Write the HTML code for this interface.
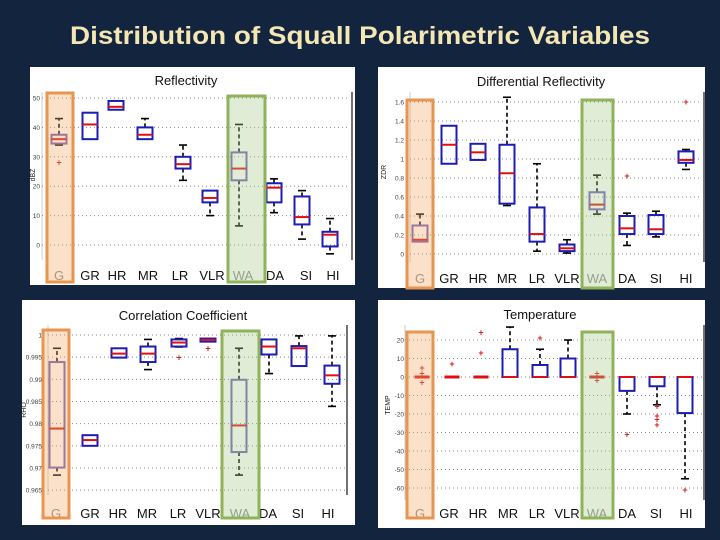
<!DOCTYPE html>
<html><head><meta charset="utf-8"><style>
html,body{margin:0;padding:0;background:#12243e;width:720px;height:540px;overflow:hidden}
svg{display:block;font-family:"Liberation Sans",sans-serif}
</style></head><body>
<svg id="s" width="720" height="540" viewBox="0 0 720 540">
<rect x="0" y="0" width="720" height="540" fill="#12243e"/>
<text x="70" y="44" textLength="580" lengthAdjust="spacingAndGlyphs" font-family="Liberation Sans, sans-serif" font-size="25" font-weight="bold" fill="#f4e7b4">Distribution of Squall Polarimetric Variables</text>
</svg>
<script>
const categories = ["G","GR","HR","MR","LR","VLR","WA","DA","SI","HI"];

// Reflectivity
const zQ1  = [34.5,36,46,36,26,14.5,22,14.5,7,-0.5];
const zMed = [36,41,47,37.5,27.5,16,26,19.5,9.5,3.5];
const zQ3  = [37.5,45,49,40,30,18.5,31.5,21,16.5,4.5];
const zLo  = [34,36,46,36,22,10,6.5,11,2,-3];
const zHi  = [43,45,49,43,34,18.5,41,22.5,18.5,9];
const zOut = [[28],[],[],[],[],[],[],[],[],[]];
const zTicks = [0,10,20,30,40,50];

// Differential reflectivity
const zdrQ1  = [0.13,0.95,0.99,0.53,0.13,0.03,0.47,0.21,0.21,0.96];
const zdrMed = [0.15,1.15,1.07,0.85,0.21,0.06,0.52,0.27,0.26,0.99];
const zdrQ3  = [0.30,1.35,1.16,1.15,0.49,0.10,0.65,0.40,0.41,1.08];
const zdrLo  = [0.13,0.95,0.99,0.51,0.03,0.01,0.42,0.09,0.18,0.89];
const zdrHi  = [0.42,1.35,1.16,1.65,0.95,0.15,0.83,0.43,0.45,1.10];
const zdrOut = [[],[],[],[],[],[],[],[0.82],[],[1.6]];
const zdrTicks = [0,0.2,0.4,0.6,0.8,1,1.2,1.4,1.6];

// Correlation coefficient
const rhoQ1  = [0.9701,0.9750,0.9949,0.9939,0.9974,0.9985,0.9736,0.9956,0.9930,0.9890];
const rhoMed = [0.9789,0.9763,0.9958,0.9958,0.9983,0.9989,0.9796,0.9974,0.9970,0.9909];
const rhoQ3  = [0.9939,0.9774,0.9970,0.9974,0.9990,0.9992,0.9899,0.9990,0.9975,0.9931];
const rhoLo  = [0.9684,0.9750,0.9949,0.9922,0.9973,0.9985,0.9684,0.9913,0.9930,0.9839];
const rhoHi  = [0.9970,0.9774,0.9970,0.9990,0.9992,0.9992,0.9970,0.9990,0.9998,0.9998];
const rhoOut = [[],[],[],[],[0.9949],[0.9970],[],[],[],[]];
const rhoTicks = [0.965,0.97,0.975,0.98,0.985,0.99,0.995,1];

// Temperature
const tQ1  = [0,0,0,0,0,0,0,-7.5,-5,-19.5];
const tMed = [0,0,0,0,0,0,0,0,0,0];
const tQ3  = [0,0,0,15,6.5,10,0,0,0,0];
const tLo  = [0,0,0,0,0,0,0,-20,-15,-55];
const tHi  = [0,0,0,27,15,20,0,0,0,0];
const tOut = [[5,2,-3],[7],[13,24],[],[21],[],[2,-2],[-31],[-16,-21,-23,-26],[-61]];
const tTicks = [20,10,0,-10,-20,-30,-40,-50,-60];

const NS="http://www.w3.org/2000/svg";
const svg=document.getElementById('s');
function mk(tag,attrs,parent){const e=document.createElementNS(NS,tag);for(const k in attrs)e.setAttribute(k,attrs[k]);(parent||svg).appendChild(e);return e;}

const panels=[
 {id:'reflectivity',title:'Reflectivity',bg:[30,67,325,218],tx:186,ty:85,plot:[42,350],v0:0,p0:245,v1:50,p1:98,
  cx:[59,90,116,145,183,210,239,274,302,330],lx:[59,90,117,148,180,212,243,275,306,333],ly:280,
  hG:[47,93,26,189],hW:[228,96,37,186],q1:zQ1,med:zMed,q3:zQ3,lo:zLo,hi:zHi,out:zOut,ticks:zTicks,fmt:v=>String(v),ylab:'dBZ',yl:[35,175],axisB:260,tickx:40},
 {id:'differential-reflectivity',title:'Differential Reflectivity',bg:[378,67,327,221],tx:541,ty:86,plot:[410,702],v0:0,p0:254,v1:1.6,p1:102,
  cx:[420,449,478,507,537,567,597,627,656,686],lx:[420,449,478,507,537,567,597,627,656,686],ly:283,
  hG:[407,100,26,188],hW:[582,100,31,188],q1:zdrQ1,med:zdrMed,q3:zdrQ3,lo:zdrLo,hi:zdrHi,out:zdrOut,ticks:zdrTicks,fmt:v=>String(v),ylab:'ZDR',yl:[386,172],axisB:262,tickx:404},
 {id:'correlation-coefficient',title:'Correlation Coefficient',bg:[22,300,333,225],tx:183,ty:320,plot:[48,345],v0:0.97,p0:468,v1:1,p1:335,
  cx:[57,90,119,148,179,208,239,269,299,332],lx:[56,90,118,147,178,208,240,268,298,328],ly:518,
  hG:[43,330,26,188],hW:[222,331,37,187],q1:rhoQ1,med:rhoMed,q3:rhoQ3,lo:rhoLo,hi:rhoHi,out:rhoOut,ticks:rhoTicks,fmt:v=>String(v),ylab:'RHO',yl:[26,410],axisB:495,tickx:42},
 {id:'temperature',title:'Temperature',bg:[378,300,327,228],tx:540,ty:319,plot:[405,702],v0:0,p0:377,v1:-60,p1:488,
  cx:[422,452,481,510,540,568,597,627,657,685],lx:[420,449,478,508,537,567,597,627,656,686],ly:518,
  hG:[407,332,26,186],hW:[582,332,31,186],q1:tQ1,med:tMed,q3:tQ3,lo:tLo,hi:tHi,out:tOut,ticks:tTicks,fmt:v=>String(v),ylab:'TEMP',yl:[390,405],axisB:500,tickx:404}
];

panels.forEach(p=>{
 const g=mk('g',{});
 
 
 const y=v=>p.p0+(v-p.v0)*(p.p1-p.p0)/(p.v1-p.v0);
 const bg=mk('rect',{x:p.bg[0],y:p.bg[1],width:p.bg[2],height:p.bg[3],fill:'#ffffff'},g);
 
 
 const t=mk('text',{x:p.tx,y:p.ty,'text-anchor':'middle','font-size':13,fill:'#111'},g);
 t.textContent=p.title;
 
 
 const rl=mk('line',{x1:p.plot[1]+2,x2:p.plot[1]+2,y1:p.bg[1]+25,y2:p.axisB,stroke:'#444','stroke-width':1.5},g);
 
 
 const ll=mk('line',{x1:p.plot[0],x2:p.plot[0],y1:p.bg[1]+25,y2:p.axisB,stroke:'#ccc','stroke-width':1},g);
 
 
 p.ticks.forEach(v=>{
  const gl=mk('line',{x1:p.plot[0],x2:p.plot[1],y1:y(v),y2:y(v),stroke:'#888','stroke-width':1,'stroke-dasharray':'1,3'},g);
  
  
  const tl=mk('text',{x:p.tickx,y:y(v)+2.5,'text-anchor':'end','font-size':6.5,fill:'#444'},g);
  tl.textContent=p.fmt(v);
  
  
 });
 const yt=mk('text',{x:p.yl[0],y:p.yl[1],'text-anchor':'middle','font-size':7,fill:'#222',transform:`rotate(-90 ${p.yl[0]} ${p.yl[1]})`},g);
 yt.textContent=p.ylab;
 
 
 categories.forEach((c,i)=>{
  const x=p.cx[i],w=7.5;
  const faded=(c==='G'||c==='WA');
  const bx=faded?'#6a60b8':'#1c1cb4';
  const bg2=mk('g',{},g);
  
  
  if(p.hi[i]>p.q3[i]) mk('line',{x1:x,x2:x,y1:y(p.q3[i]),y2:y(p.hi[i]),stroke:'#000','stroke-width':1.6,'stroke-dasharray':'4,3'},bg2);
  if(p.lo[i]<p.q1[i]) mk('line',{x1:x,x2:x,y1:y(p.q1[i]),y2:y(p.lo[i]),stroke:'#000','stroke-width':1.6,'stroke-dasharray':'4,3'},bg2);
  if(p.hi[i]>p.q3[i]) mk('line',{x1:x-4,x2:x+4,y1:y(p.hi[i]),y2:y(p.hi[i]),stroke:'#000','stroke-width':1.6},bg2);
  if(p.lo[i]<p.q1[i]) mk('line',{x1:x-4,x2:x+4,y1:y(p.lo[i]),y2:y(p.lo[i]),stroke:'#000','stroke-width':1.6},bg2);
  const top=Math.min(y(p.q1[i]),y(p.q3[i])),h=Math.abs(y(p.q1[i])-y(p.q3[i]));
  if(h>0.5) mk('rect',{x:x-w,y:top,width:2*w,height:h,fill:'none',stroke:bx,'stroke-width':2},bg2);
  mk('line',{x1:x-w,x2:x+w,y1:y(p.med[i]),y2:y(p.med[i]),stroke:'#e01010','stroke-width':h>0.5?2:3},bg2);
  p.out[i].forEach(o=>{
   const ot=mk('text',{x:x,y:y(o)+3,'text-anchor':'middle','font-size':9,'font-weight':'bold',fill:'#d02020'},bg2);
   ot.textContent='+';
   
   
  });
  const lb=mk('text',{x:p.lx[i],y:p.ly,'text-anchor':'middle','font-size':13,fill:faded?'#8a8a8a':'#111'},g);
  lb.textContent=c;
  
  
 });
 const hg=mk('rect',{x:p.hG[0],y:p.hG[1],width:p.hG[2],height:p.hG[3],fill:'#f3a766','fill-opacity':0.35,stroke:'#e8964f','stroke-width':3},g);
 
 
 const hw=mk('rect',{x:p.hW[0],y:p.hW[1],width:p.hW[2],height:p.hW[3],fill:'#a9c98a','fill-opacity':0.35,stroke:'#8fb35a','stroke-width':3},g);
 
 
});
</script>
</body></html>
